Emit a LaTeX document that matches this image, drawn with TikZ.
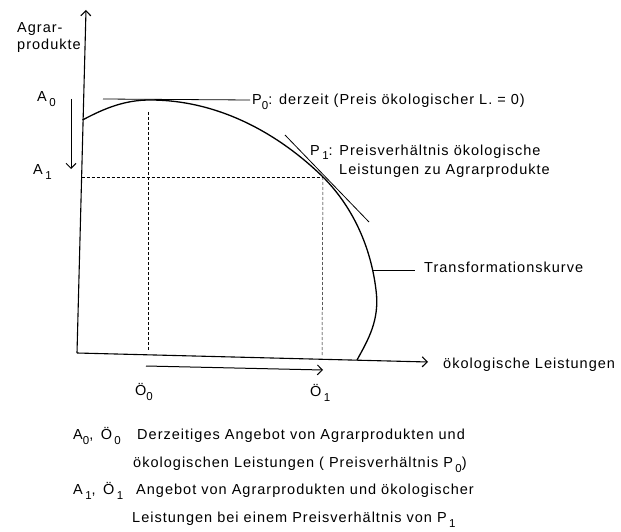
\documentclass[tikz,border=0pt]{standalone}
\usepackage{fontspec}
\setmainfont{Liberation Sans}[LetterSpace=7]
\usetikzlibrary{arrows.meta}
\newcommand\sbs[1]{\raisebox{-5pt}{\fontsize{11.5}{12}\selectfont #1}}
\begin{document}
\begin{tikzpicture}[x=1pt,y=-1pt,
  lbl/.style={anchor=base west, inner sep=0pt, font=\fontsize{14.5}{17}\selectfont},
  barb/.style={-{Straight Barb[length=5pt,width=10pt]}},
  axisline/.style={line width=1.1pt, barb},
  curveline/.style={line width=1.3pt},
  tangent/.style={line width=0.8pt},
  guide/.style={line width=0.5pt, dash pattern=on 3pt off 2pt},
  leader/.style={line width=0.6pt},
  movearrow/.style={line width=1pt, barb}]
\useasboundingbox (0,0) rectangle (621,532);
% axes
\coordinate (O) at (77,353);
\coordinate (Ytip) at (86,10);
\coordinate (Xtip) at (428,362);
\draw[axisline] (O) -- (Ytip);
\draw[axisline] (O) -- (Xtip);
\node[lbl] (ylab1) at (17,33) {Agrar-};
\node[lbl] (ylab2) at (17,50) {produkte};
\node[lbl] (xlab) at (443,368) {ökologische Leistungen};
% transformation curve
\coordinate (C0) at (82.5,120);
\coordinate (Pz) at (150,100);
\coordinate (Pe) at (323,177);
\coordinate (Cr) at (376,290);
\coordinate (Ce) at (357,360);
\draw[curveline] (C0) .. controls (105,108) and (125,100) .. (Pz)
  .. controls (220,100) and (280,135) .. (Pe)
  .. controls (348,202) and (370,240) .. (Cr)
  .. controls (380,320) and (368,340) .. (Ce);
% tangent P0
\coordinate (T0a) at (103,99);
\coordinate (T0b) at (250,100);
\draw[tangent] (T0a) -- (T0b);
\node[lbl] (p0lab) at (252,105) {P\sbs{0}: derzeit (Preis ökologischer L. = 0)};
% tangent P1
\coordinate (T1a) at (285,135);
\coordinate (T1b) at (369,222);
\draw[tangent] (T1a) -- (T1b);
\node[lbl] (p1lab) at (310,155) {P\,\sbs{1}: Preisverhältnis ökologische};
\node[lbl] (p1lab2) at (339,175) {Leistungen zu Agrarprodukte};
% leader
\coordinate (L0) at (372.4,270);
\coordinate (L1) at (415,270);
\draw[leader] (L0) -- (L1);
\node[lbl] (tlab) at (424,272) {Transformationskurve};
% guides
\coordinate (G0a) at (148,112);
\coordinate (G0b) at (148,350);
\coordinate (GAa) at (81.6,177);
\coordinate (G1b) at (322,355);
\draw[guide] (G0a) -- (G0b);
\draw[guide] (GAa) -- (Pe);
\draw[guide] (Pe) -- (G1b);
% A labels and arrow
\node[lbl] (a0) at (37,102) {A\,\sbs{0}};
\node[lbl] (a1) at (33,175) {A\,\sbs{1}};
\coordinate (Aa) at (71,99);
\coordinate (Ab) at (71,169);
\draw[movearrow] (Aa) -- (Ab);
% Ö labels and arrow
\node[lbl] (o0) at (135,395) {Ö\sbs{0}};
\node[lbl] (o1) at (310,396) {Ö\,\sbs{1}};
\coordinate (Oa) at (146,366);
\coordinate (Ob) at (323,370);
\draw[movearrow] (Oa) -- (Ob);
% legend
\node[lbl] (k1) at (73,439) {A\sbs{0},\, Ö\,\sbs{0}};
\node[lbl] (t1) at (137,439) {Derzeitiges Angebot von Agrarprodukten und};
\node[lbl] (t2) at (133,467) {ökologischen Leistungen ( Preisverhältnis P\,\sbs{0})};
\node[lbl] (k2) at (73,494) {A\,\sbs{1},\, Ö\,\sbs{1}};
\node[lbl] (t3) at (136,494) {Angebot von Agrarprodukten und ökologischer};
\node[lbl] (t4) at (132,522) {Leistungen bei einem Preisverhältnis von P\,\sbs{1}};
\end{tikzpicture}
\end{document}
